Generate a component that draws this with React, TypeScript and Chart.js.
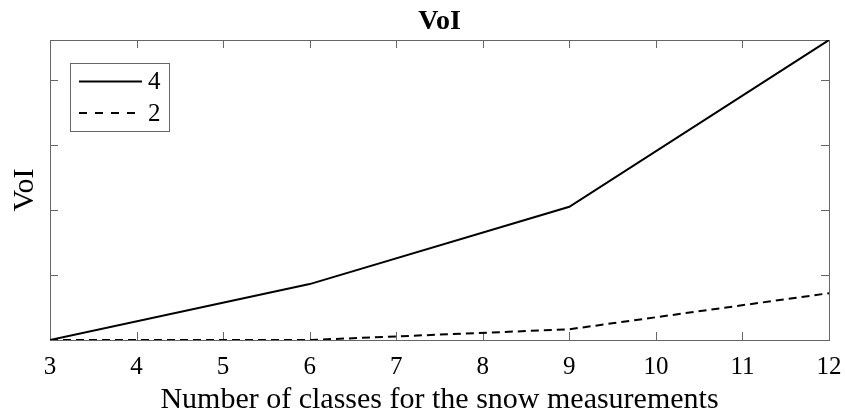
import React, { useEffect, useRef } from "react";
import { Chart, registerables } from "chart.js";

Chart.register(...registerables);

// Number of classes for the snow measurements
const classCounts = [3, 6, 9, 12];
// VoI for 4 and 2 classes of the other variable
const voi4 = [0, 0.86, 2.05, 4.615];
const voi2 = [0, 0, 0.165, 0.72];
const seriesLabels = ["4", "2"];
const xTickValues = [3, 4, 5, 6, 7, 8, 9, 10, 11, 12];
const yTickValues = [0, 1, 2, 3, 4];

const SERIF = "'Liberation Serif', 'Times New Roman', serif";
const FRAME = "#666666";

// MATLAB-style box: border plus inward ticks on all four sides, and a boxed legend
const boxPlugin = {
  id: "matlabBox",
  beforeDatasetsDraw(chart: any) {
    const { ctx, chartArea: a, scales } = chart;
    const L = a.left, R = a.right, T = a.top, B = a.bottom;
    const tick = 8;
    ctx.save();
    ctx.strokeStyle = FRAME;
    ctx.lineWidth = 1;
    ctx.beginPath();
    for (const v of xTickValues) {
      const x = Math.round(scales.x.getPixelForValue(v)) + 0.5;
      ctx.moveTo(x, B);
      ctx.lineTo(x, B - tick);
      ctx.moveTo(x, T);
      ctx.lineTo(x, T + tick);
    }
    for (const v of yTickValues) {
      const y = Math.round(scales.y.getPixelForValue(v)) + 0.5;
      ctx.moveTo(L, y);
      ctx.lineTo(L + tick, y);
      ctx.moveTo(R, y);
      ctx.lineTo(R - tick, y);
    }
    ctx.stroke();
    ctx.strokeRect(Math.round(L) + 0.5, Math.round(T) + 0.5, Math.round(R - L), Math.round(B - T));
    ctx.restore();
  },
  afterDraw(chart: any) {
    const { ctx, chartArea: a } = chart;
    const bx = a.left + 20, by = a.top + 23, bw = 99, bh = 68;
    ctx.save();
    ctx.fillStyle = "#ffffff";
    ctx.fillRect(bx, by, bw, bh);
    ctx.strokeStyle = FRAME;
    ctx.lineWidth = 1;
    ctx.strokeRect(Math.round(bx) + 0.5, Math.round(by) + 0.5, bw, bh);
    const rows = [by + 18.5, by + 50];
    chart.data.datasets.forEach((ds: any, i: number) => {
      const y = rows[i];
      ctx.beginPath();
      ctx.strokeStyle = "#000000";
      ctx.lineWidth = 2;
      ctx.setLineDash(ds.borderDash && ds.borderDash.length ? [8, 8] : []);
      ctx.moveTo(bx + 9, y);
      ctx.lineTo(bx + 72, y);
      ctx.stroke();
      ctx.setLineDash([]);
      ctx.fillStyle = "#000000";
      ctx.font = `25px ${SERIF}`;
      ctx.textBaseline = "middle";
      ctx.textAlign = "left";
      ctx.fillText(ds.label, bx + 78, y + 1);
    });
    ctx.restore();
  },
};

export default function App() {
  const canvasRef = useRef<HTMLCanvasElement | null>(null);

  useEffect(() => {
    const canvas = canvasRef.current;
    if (!canvas) return;
    const chart = new Chart(canvas, {
      type: "line",
      data: {
        datasets: [
          {
            label: seriesLabels[0],
            data: classCounts.map((x, i) => ({ x, y: voi4[i] })),
            borderColor: "#000000",
            borderWidth: 2,
            pointRadius: 0,
            tension: 0,
            fill: false,
          },
          {
            label: seriesLabels[1],
            data: classCounts.map((x, i) => ({ x, y: voi2[i] })),
            borderColor: "#000000",
            borderWidth: 2,
            borderDash: [8, 5],
            pointRadius: 0,
            tension: 0,
            fill: false,
          },
        ],
      },
      options: {
        responsive: false,
        animation: false,
        layout: { padding: { top: 0, right: 16, left: 0, bottom: 0 } },
        plugins: {
          legend: { display: false },
          tooltip: { enabled: false },
          title: {
            display: true,
            text: "VoI",
            fullSize: false,
            color: "#000000",
            font: { family: SERIF, size: 28, weight: "bold", lineHeight: 1 },
            padding: { top: 8, bottom: 4 },
          },
        },
        scales: {
          x: {
            type: "linear",
            min: 3,
            max: 12,
            grid: { display: false, drawTicks: false },
            border: { display: false },
            ticks: {
              stepSize: 1,
              color: "#000000",
              font: { family: SERIF, size: 25 },
              padding: 12,
            },
            title: {
              display: true,
              text: "Number of classes for the snow measurements",
              color: "#000000",
              font: { family: SERIF, size: 30, lineHeight: 1 },
              padding: { top: 0, bottom: 0 },
            },
            afterFit: (scale: any) => {
              scale.height = 75;
              scale.paddingLeft = 0;
              scale.paddingRight = 0;
            },
          },
          y: {
            type: "linear",
            min: 0,
            max: 4.615,
            grid: { display: false, drawTicks: false },
            border: { display: false },
            ticks: { display: false, stepSize: 1 },
            title: {
              display: true,
              text: "VoI",
              color: "#000000",
              font: { family: SERIF, size: 30, lineHeight: 1 },
              padding: { top: 10, bottom: 0 },
            },
            afterFit: (scale: any) => {
              scale.width = 50;
              scale.paddingTop = 0;
              scale.paddingBottom = 0;
            },
          },
        },
      },
      plugins: [boxPlugin],
    });
    return () => chart.destroy();
  }, []);

  return (
    <div style={{ position: "absolute", left: 0, top: 0, width: 845, height: 415, background: "#ffffff" }}>
      <canvas ref={canvasRef} width={845} height={415} />
    </div>
  );
}
